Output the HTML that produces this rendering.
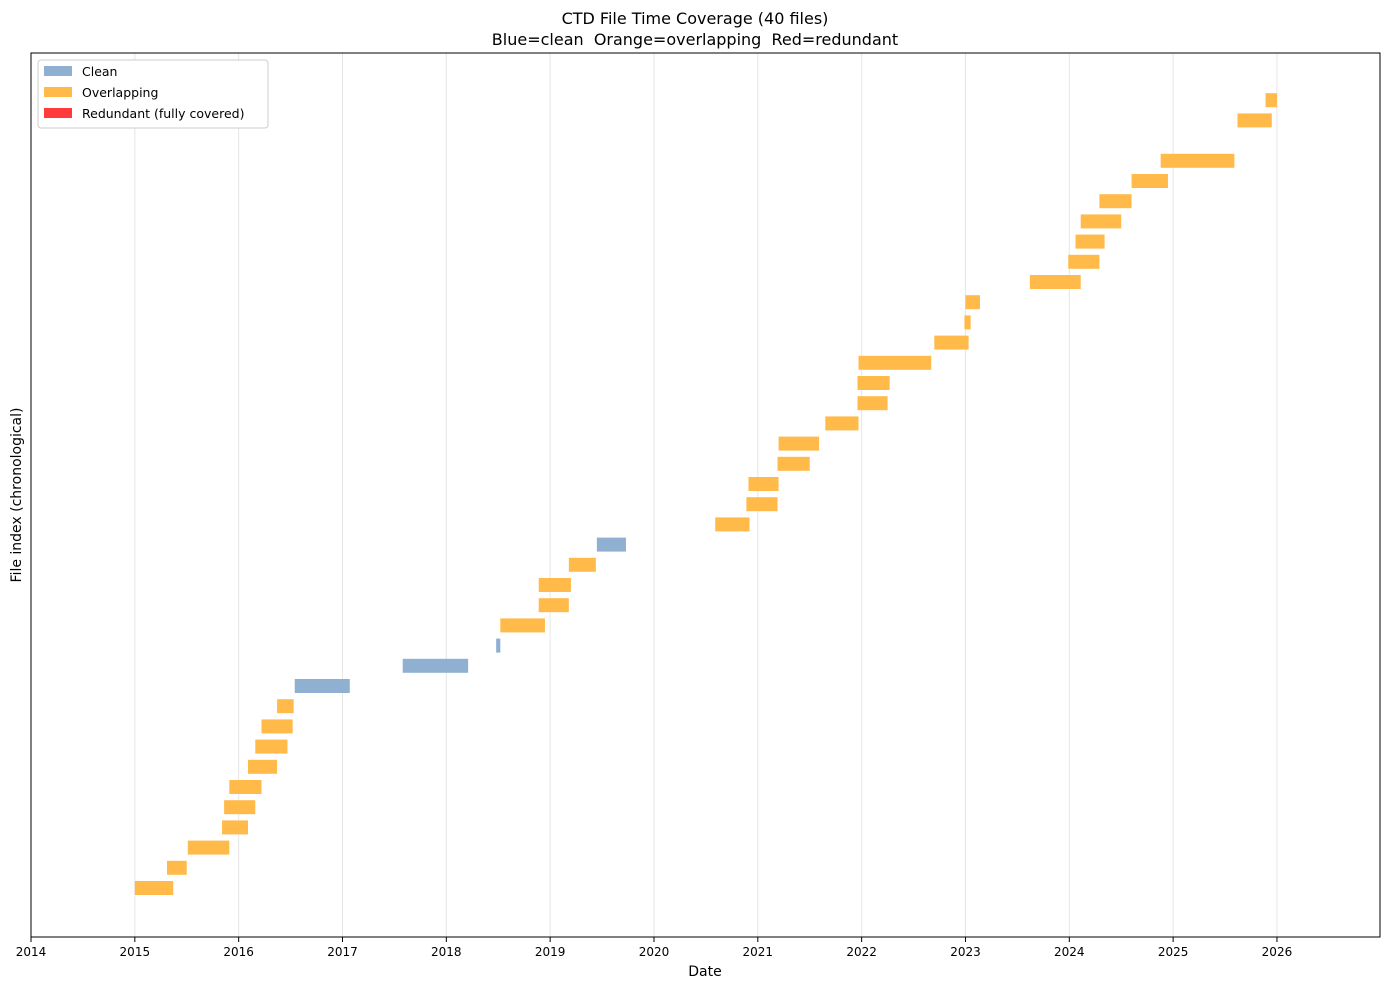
<!DOCTYPE html>
<html><head><meta charset="utf-8"><style>
body{margin:0;background:#fff;font-family:"Liberation Sans","DejaVu Sans",sans-serif;}
svg text{font-family:"DejaVu Sans","Liberation Sans",sans-serif;fill:#000;}
</style></head><body>
<svg id="chart" width="1390" height="990" xmlns="http://www.w3.org/2000/svg">
<text x="695" y="24" font-size="16" text-anchor="middle">CTD File Time Coverage (40 files)</text>
<text x="695" y="45" font-size="16" text-anchor="middle" xml:space="preserve" style="white-space:pre">Blue=clean  Orange=overlapping  Red=redundant</text>
<g id="grid"></g>
<g id="bars"></g>
<rect x="31" y="53" width="1349" height="884" fill="none" stroke="#000" stroke-width="1"/>
<g id="xaxis"></g>
<text x="705" y="976" font-size="14" text-anchor="middle">Date</text>
<text transform="translate(21,495) rotate(-90)" font-size="14" text-anchor="middle">File index (chronological)</text>
<g>
<rect x="38" y="60" width="230" height="68" fill="#fff" stroke="#ccc" rx="3"/>
<rect x="44" y="66" width="28" height="10" fill="#8fb0d0"/>
<text x="82" y="76" font-size="12.5">Clean</text>
<rect x="44" y="87" width="28" height="10" fill="#ffba4a"/>
<text x="82" y="97" font-size="12.5">Overlapping</text>
<rect x="44" y="108" width="28" height="10" fill="#ff3b3b"/>
<text x="82" y="118" font-size="12.5">Redundant (fully covered)</text>
</g>
</svg>
<script>
const fileIndex=[0,1,2,3,4,5,6,7,8,9,10,11,12,13,14,15,16,17,18,19,20,21,22,23,24,25,26,27,28,29,30,31,32,33,34,35,36,38,39];
const startYear=[2015.0,2015.31,2015.51,2015.84,2015.86,2015.91,2016.09,2016.16,2016.22,2016.37,2016.54,2017.58,2018.48,2018.52,2018.89,2018.89,2019.18,2019.45,2020.59,2020.89,2020.91,2021.19,2021.20,2021.65,2021.96,2021.96,2021.97,2022.70,2022.99,2023.0,2023.62,2023.99,2024.06,2024.11,2024.29,2024.60,2024.88,2025.62,2025.89];
const endYear=[2015.37,2015.50,2015.91,2016.09,2016.16,2016.22,2016.37,2016.47,2016.52,2016.53,2017.07,2018.21,2018.52,2018.95,2019.18,2019.20,2019.44,2019.73,2020.92,2021.19,2021.20,2021.50,2021.59,2021.97,2022.25,2022.27,2022.67,2023.03,2023.05,2023.14,2024.11,2024.29,2024.34,2024.50,2024.60,2024.95,2025.59,2025.95,2026.0];
const status=["o","o","o","o","o","o","o","o","o","o","c","c","c","o","o","o","o","c","o","o","o","o","o","o","o","o","o","o","o","o","o","o","o","o","o","o","o","o","o"];
const tickYears=[2014,2015,2016,2017,2018,2019,2020,2021,2022,2023,2024,2025,2026];
const NS="http://www.w3.org/2000/svg";
const x=v=>31+(v-2014)*103.83;
const y=i=>888-20.2*i;
const colors={c:"#8fb0d0",o:"#ffba4a",r:"#ff3b3b"};
const grid=document.getElementById("grid"),xa=document.getElementById("xaxis"),bars=document.getElementById("bars");
tickYears.forEach(t=>{
 const l=document.createElementNS(NS,"line");
 l.setAttribute("x1",x(t));l.setAttribute("x2",x(t));l.setAttribute("y1",53);l.setAttribute("y2",937);
 l.setAttribute("stroke","#e6e6e6");
 
 
 grid.appendChild(l);
 const tk=document.createElementNS(NS,"line");
 tk.setAttribute("x1",x(t));tk.setAttribute("x2",x(t));tk.setAttribute("y1",937);tk.setAttribute("y2",942);tk.setAttribute("stroke","#000");
 
 
 xa.appendChild(tk);
 const tx=document.createElementNS(NS,"text");
 tx.setAttribute("x",x(t));tx.setAttribute("y",956);tx.setAttribute("font-size","12");tx.setAttribute("text-anchor","middle");
 tx.textContent=t;
 
 
 xa.appendChild(tx);
});
fileIndex.forEach((idx,k)=>{
 const r=document.createElementNS(NS,"rect");
 r.setAttribute("x",x(startYear[k]));
 r.setAttribute("width",Math.max(1,x(endYear[k])-x(startYear[k])));
 r.setAttribute("y",y(idx)-7);
 r.setAttribute("height",14);
 r.setAttribute("fill",colors[status[k]]);
 
 
 bars.appendChild(r);
});
</script>
</body></html>
